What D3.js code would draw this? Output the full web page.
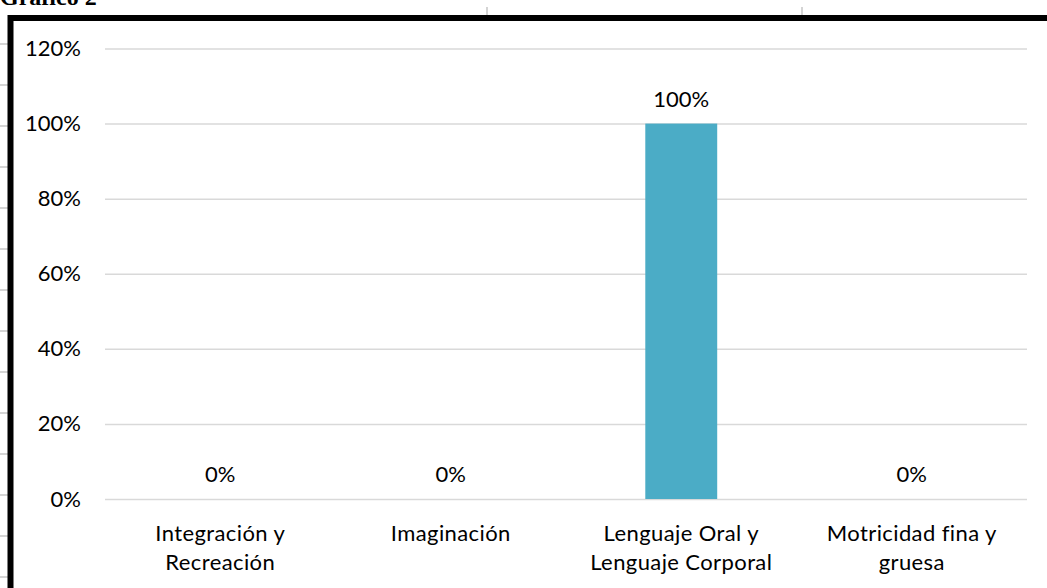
<!DOCTYPE html>
<html>
<head>
<meta charset="utf-8">
<script src="https://cdn.jsdelivr.net/npm/d3@7/dist/d3.min.js"></script>
<style>
  html, body { margin: 0; padding: 0; background: #fff; }
  svg { display: block; }
  text { font-family: Lato, "Open Sans", sans-serif; fill: #000; }
</style>
</head>
<body>
<svg id="chart" width="1047" height="588"></svg>
<script>
// Categories (two-line labels) and percentage values
const categories = [
  ["Integración y", "Recreación"],
  ["Imaginación"],
  ["Lenguaje Oral y", "Lenguaje Corporal"],
  ["Motricidad fina y", "gruesa"]
];
const values = [0, 0, 1, 0];
const yTicks = [0, 0.2, 0.4, 0.6, 0.8, 1.0, 1.2];

const svg = d3.select("#chart");
const W = 1047, H = 588;

// Document context around the chart: caption and page rule marks
svg.append("text")
  .attr("x", 0).attr("y", 5)
  .style("font-family", "'Liberation Serif', 'DejaVu Serif', serif")
  .style("font-weight", "bold")
  .style("font-size", "24px")
  .text("Gráfico 2");

const ruleYs = d3.range(44, H, 41);
svg.selectAll("line.rule-l").data(ruleYs).enter().append("line")
  .attr("x1", 0).attr("x2", 8)
  .attr("y1", d => d).attr("y2", d => d)
  .attr("stroke", "#d4d4d4").attr("stroke-width", 2);
svg.selectAll("line.rule-t").data([487, 802]).enter().append("line")
  .attr("x1", d => d).attr("x2", d => d)
  .attr("y1", 7).attr("y2", 16)
  .attr("stroke", "#d4d4d4").attr("stroke-width", 2);

// Chart frame (thick black border)
svg.append("rect")
  .attr("x", 10.5).attr("y", 18)
  .attr("width", 1200).attr("height", 800)
  .attr("fill", "#fff")
  .attr("stroke", "#000").attr("stroke-width", 6);

// Plot area
const plot = { left: 105, right: 1027, top: 48.5, bottom: 499 };

const x = d3.scaleBand()
  .domain(d3.range(categories.length))
  .range([plot.left, plot.right])
  .paddingInner(0.688)
  .paddingOuter(0.344);

const y = d3.scaleLinear()
  .domain([0, 1.2])
  .range([plot.bottom, plot.top]);

// Gridlines
svg.append("g")
  .attr("transform", `translate(${plot.left},0)`)
  .call(d3.axisLeft(y).tickValues(yTicks).tickSize(-(plot.right - plot.left)).tickFormat(""))
  .call(g => g.select(".domain").remove())
  .call(g => g.selectAll(".tick line").attr("stroke", "#d9d9d9").attr("stroke-width", 1.5));

// Y axis labels
const yAxis = svg.append("g")
  .attr("transform", `translate(${plot.left},0)`)
  .call(d3.axisLeft(y).tickValues(yTicks).tickSize(0).tickPadding(24).tickFormat(d3.format(".0%")))
  .call(g => g.select(".domain").remove());
yAxis.selectAll("text")
  .style("font-family", "Lato, sans-serif")
  .style("font-size", "22px")
  .attr("fill", "#000");

// Bars
svg.selectAll("rect.bar").data(values).enter().append("rect")
  .attr("class", "bar")
  .attr("x", (d, i) => x(i))
  .attr("width", x.bandwidth())
  .attr("y", d => y(d))
  .attr("height", d => y(0) - y(d))
  .attr("fill", "#4bacc6");

// Data labels
svg.selectAll("text.val").data(values).enter().append("text")
  .attr("class", "val")
  .attr("x", (d, i) => x(i) + x.bandwidth() / 2)
  .attr("y", d => y(d) - 17)
  .attr("text-anchor", "middle")
  .style("font-size", "22px")
  .text(d => d3.format(".0%")(d));

// Category labels
const cat = svg.selectAll("text.cat").data(categories).enter().append("text")
  .attr("class", "cat")
  .attr("text-anchor", "middle")
  .style("font-size", "22px")
  .style("letter-spacing", "0.4px")
  .attr("transform", (d, i) => `translate(${x(i) + x.bandwidth() / 2},0)`);
cat.selectAll("tspan").data(d => d).enter().append("tspan")
  .attr("x", 0)
  .attr("y", (d, j) => 541 + j * 29)
  .text(d => d);
</script>
</body>
</html>
